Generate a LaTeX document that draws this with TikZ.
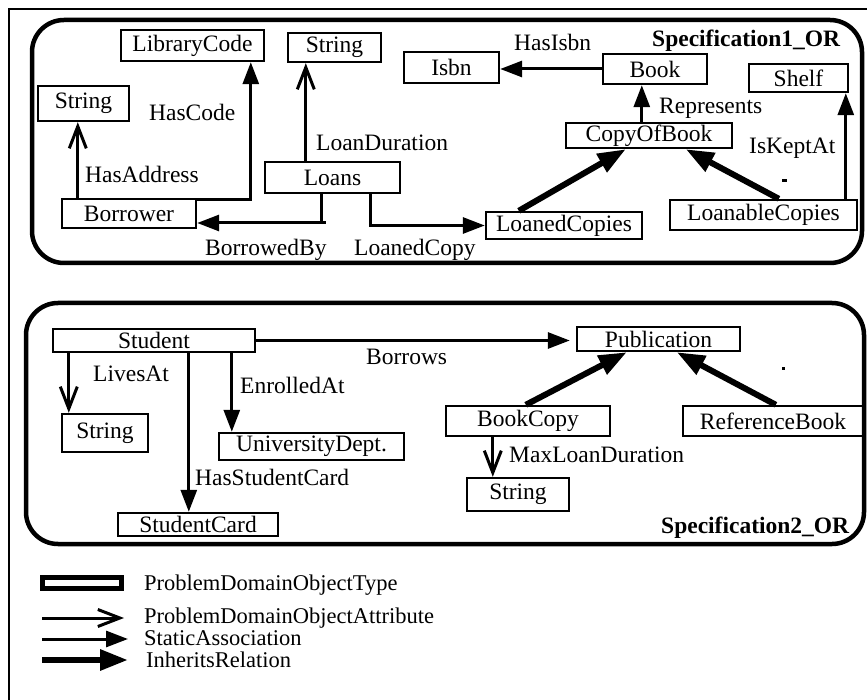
\documentclass[tikz,border=0pt]{standalone}
\usepackage{fontspec}
\setmainfont{Liberation Serif}
\usetikzlibrary{arrows.meta}
\begin{document}
\begin{tikzpicture}[x=1pt,y=-1pt,
  every node/.style={font=\fontsize{23.5}{28}\selectfont},
  obj/.style={draw,line width=2.4pt,inner sep=0pt},
  cont/.style={draw,line width=4.5pt,rounded corners=32pt,inner sep=0pt},
  lab/.style={inner sep=0pt,anchor=west,text height=15.6pt,text depth=0pt},
  leg/.style={lab,font=\fontsize{22.5}{26}\selectfont},
  ttl/.style={lab,font=\fontsize{23.5}{28}\selectfont\bfseries},
  conn/.style={line width=3pt},
  attr/.style={conn,-{Straight Barb[length=22pt,width=17pt,line width=3pt]}},
  assoc/.style={conn,-{Triangle[length=22pt,width=16pt]}},
  inh/.style={line width=6pt,-{Triangle[length=28pt,width=20pt]}}]
\useasboundingbox (0,0) rectangle (867,700);

% frame
\draw[line width=2pt] (9,700) -- (9,9) -- (867,9);

% ---------- Specification1_OR ----------
\node[cont,minimum width=830pt,minimum height=243pt] (spec1) at (447,141.5) {};
\node[ttl] (t1) at (652,39) {Specification1\_OR};

\node[obj,minimum width=143pt,minimum height=31pt] (libcode) at (192.5,45.5) {LibraryCode};
\node[obj,minimum width=93pt,minimum height=29pt] (str1) at (334.5,47.5) {String};
\node[obj,minimum width=91pt,minimum height=35pt] (str2) at (83.5,103.5) {String};
\node[obj,minimum width=135pt,minimum height=31pt] (loans) at (332.5,177.5) {Loans};
\node[obj,minimum width=134pt,minimum height=29pt] (borrower) at (129,213.5) {Borrower};
\node[obj,minimum width=95pt,minimum height=31pt] (isbn) at (451.5,67.5) {Isbn};
\node[obj,minimum width=104pt,minimum height=30pt] (book) at (655,69) {Book};
\node[obj,minimum width=99pt,minimum height=28pt] (shelf) at (798.5,78) {Shelf};
\node[obj,minimum width=166pt,minimum height=25pt] (copy) at (649,135.5) {CopyOfBook};
\node[obj,minimum width=156pt,minimum height=27pt] (loaned) at (564,225.5) {LoanedCopies};
\node[obj,minimum width=187pt,minimum height=30pt] (loanable) at (763.5,215) {LoanableCopies};

\node[lab] (lcode) at (149,113) {HasCode};
\node[lab] (laddr) at (85,175) {HasAddress};
\node[lab] (ldur) at (316,143) {LoanDuration};
\node[lab] (lby) at (205,248) {BorrowedBy};
\node[lab] (lcopy) at (354,248) {LoanedCopy};
\node[lab] (lisbn) at (514,43) {HasIsbn};
\node[lab] (lrep) at (659,106) {Represents};
\node[lab] (lkept) at (749,146) {IsKeptAt};

\coordinate (c1) at ([xshift=17pt]borrower.north west);
\draw[attr] (c1) -- (c1 |- str2.south);
\draw[assoc] ([yshift=-2pt]borrower.north east) -| ([xshift=131pt]libcode.south west);
\coordinate (c3) at ([xshift=42pt]loans.north west);
\draw[attr] (c3) -- (c3 |- str1.south);
\coordinate (c4) at ([xshift=58pt]loans.south west);
\coordinate (b4) at ([yshift=-9.5pt]borrower.east);
\draw[assoc] (c4) |- (b4);
\draw[conn] (c4 |- b4) -- ++(4,0);
\coordinate (c5) at ([xshift=107pt]loans.south west);
\draw[assoc] (c5) |- (loaned.west);
\draw[assoc] (book.west) -- (book.west -| isbn.east);
\coordinate (c7) at ([xshift=77pt]copy.north west);
\draw[assoc] (c7) -- (c7 |- book.south);
\coordinate (c8) at ([xshift=177pt]loanable.north west);
\draw[assoc] (c8) -- (c8 |- shelf.south);
\draw[inh] ([xshift=34pt]loaned.north west) -- ([xshift=61pt]copy.south west);
\draw[inh] ([xshift=110pt]loanable.north west) -- ([xshift=121pt]copy.south west);
\fill (782,179) rectangle (787,182);

% ---------- Specification2_OR ----------
\node[cont,minimum width=838pt,minimum height=241pt] (spec2) at (445,423.5) {};
\node[ttl] (t2) at (661,526) {Specification2\_OR};

\node[obj,minimum width=202pt,minimum height=23pt] (student) at (154,340.5) {Student};
\node[obj,minimum width=86pt,minimum height=38pt] (str3) at (105,433) {String};
\node[obj,minimum width=185pt,minimum height=27pt] (unidept) at (311.5,446.5) {UniversityDept.};
\node[obj,minimum width=160pt,minimum height=23pt] (card) at (198,524.5) {StudentCard};
\node[obj,minimum width=163pt,minimum height=24pt] (pub) at (658.5,339) {Publication};
\node[obj,minimum width=164pt,minimum height=30pt] (bookcopy) at (528,421) {BookCopy};
\node[obj,minimum width=180pt,minimum height=30pt] (refbook) at (773,421) {ReferenceBook};
\node[obj,minimum width=102pt,minimum height=33pt] (str4) at (518,494.5) {String};

\node[lab] (lborrows) at (366,357) {Borrows};
\node[lab] (llives) at (93,374) {LivesAt};
\node[lab] (lenr) at (240,386) {EnrolledAt};
\node[lab] (lcard) at (195,478) {HasStudentCard};
\node[lab] (lmax) at (509,454.5) {MaxLoanDuration};

\coordinate (c11) at ([xshift=17pt]student.south west);
\draw[attr] (c11) -- (c11 |- str3.north);
\coordinate (c12) at ([xshift=137pt]student.south west);
\draw[assoc] (c12) -- (c12 |- card.north);
\coordinate (c13) at ([xshift=180pt]student.south west);
\draw[assoc] (c13) -- (c13 |- unidept.north);
\draw[assoc,shorten >=6pt] (student.east) -- (student.east -| pub.west);
\draw[inh] ([xshift=81pt]bookcopy.north west) -- ([xshift=51pt]pub.south west);
\draw[inh] ([xshift=94pt]refbook.north west) -- ([xshift=101pt]pub.south west);
\coordinate (c17) at ([xshift=48pt]bookcopy.south west);
\draw[attr] (c17) -- (c17 |- str4.north);
\fill (782,367) rectangle (785,370);

% ---------- legend ----------
\node[draw,line width=5pt,inner sep=0pt,minimum width=79pt,minimum height=11pt] (legtype) at (82,583) {};
\coordinate (la1) at (42,618); \coordinate (la2) at (124,618);
\coordinate (ls1) at (42,639); \coordinate (ls2) at (128,639);
\coordinate (li1) at (42,660); \coordinate (li2) at (128,660);
\draw[attr] (la1) -- (la2);
\draw[assoc] (ls1) -- (ls2);
\draw[inh] (li1) -- (li2);
\node[leg] (ltype) at (144,583) {ProblemDomainObjectType};
\node[leg] (lattr) at (144,615.5) {ProblemDomainObjectAttribute};
\node[leg] (lstat) at (144,637.5) {StaticAssociation};
\node[leg] (linh) at (146,659.5) {InheritsRelation};
\end{tikzpicture}
\end{document}
